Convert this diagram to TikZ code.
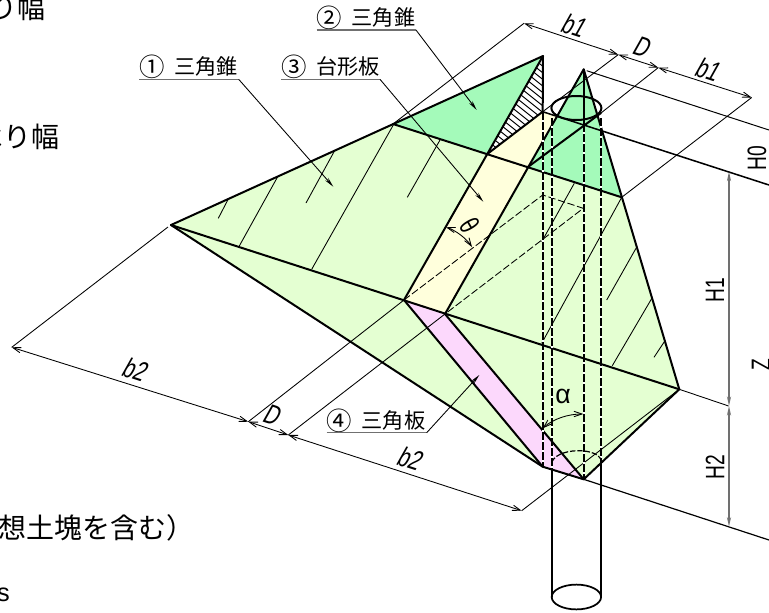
\documentclass[tikz,border=0pt]{standalone}
\usepackage{fontspec}
\usetikzlibrary{arrows.meta}
\newfontfamily\jpf{Noto Sans CJK JP}
\newfontfamily\dimf[FakeStretch=0.72]{Liberation Sans}
\newfontfamily\dimi[FakeStretch=0.72,FakeSlant=0.2]{Liberation Sans}
\newfontfamily\plainf{Liberation Sans}
\definecolor{lgreen}{HTML}{E4FFD2}
\definecolor{mgreen}{HTML}{A4FABA}
\definecolor{lyellow}{HTML}{FFFFDC}
\definecolor{lpink}{HTML}{FCD8FC}
\definecolor{dimgray}{HTML}{707070}
\newcommand{\lab}[2]{{\jpf\fontsize{15.9pt}{18pt}\selectfont\raisebox{-1.6pt}{\scalebox{1.2}{#1}}\hspace{7pt}#2}}
\tikzset{
  thickedge/.style={line width=1.5pt,line join=round,line cap=round,black},
  midedge/.style={line width=1pt,black},
  thinline/.style={line width=0.65pt,black},
  thindash/.style={line width=0.65pt,black,dash pattern=on 5.5pt off 2pt},
  pileunder/.style={line width=1.8pt,white},
  piledash/.style={line width=1.3pt,black,dash pattern=on 6pt off 1.5pt},
  dimarrow/.style={line width=0.65pt,black,{Straight Barb[length=6pt,width=4pt]}-{Straight Barb[length=6pt,width=4pt]}},
  leaderarrow/.style={line width=0.65pt,black,-{Stealth[length=7.5pt,width=3pt]}},
  underl/.style={line width=1.1pt,dimgray},
  vdim/.style={line width=1.2pt,dimgray,{Stealth[length=7pt,width=3pt]}-{Stealth[length=7pt,width=3pt]}},
  labnode/.style={anchor=base west,inner sep=0pt},
  dimlab/.style={inner sep=0pt,font=\dimi\fontsize{21pt}{22pt}\selectfont},
  hlab/.style={inner sep=0pt,rotate=90,font=\dimf\fontsize{20pt}{21pt}\selectfont},
  bigjp/.style={inner sep=0pt,font=\jpf\fontsize{21pt}{24pt}\selectfont},
}
\begin{document}
\begin{tikzpicture}[x=0.75pt,y=-0.75pt]
\useasboundingbox (0,0) rectangle (769,612);
% key points
\coordinate (A) at (171,225);
\coordinate (T) at (543,56);
\coordinate (R) at (583.7,69.3);
\coordinate (U) at (393,124);
\coordinate (V) at (621.7,197.3);
\coordinate (E) at (487.3,154);
\coordinate (F) at (528.3,166.7);
\coordinate (G) at (542.7,111.7);
\coordinate (K) at (556,116);
\coordinate (M) at (601,113);
\coordinate (L) at (404,300);
\coordinate (P) at (445,314);
\coordinate (B) at (542.7,466.7);
\coordinate (C) at (583.7,479.3);
\coordinate (W) at (679.3,389.3);
% fills
\fill[lgreen] (A) -- (U) -- (V) -- (W) -- (C) -- (B) -- cycle;
\fill[mgreen] (U) -- (T) -- (E) -- cycle;
\fill[mgreen] (F) -- (R) -- (V) -- cycle;
\fill[white] (T) -- (G) -- (E) -- cycle;
\fill[lyellow] (E) -- (G) -- (K) -- (P) -- (L) -- cycle;
\fill[lpink] (L) -- (P) -- (C) -- (B) -- cycle;
% hatching
\begin{scope}
\clip (T) -- (G) -- (E) -- cycle;
\foreach \k in {-14,...,14} {
  \draw[line width=0.75pt,black] (490,60+6.6*\k+30) -- ++(70,56);
}
\end{scope}
% thin slope lines
\coordinate (h1a) at (335,150); \coordinate (h1b) at (306,203);
\coordinate (h2a) at (277.7,176.7); \coordinate (h2b) at (239.3,246);
\coordinate (h3a) at (228.3,199); \coordinate (h3b) at (218.3,218.3);
\coordinate (h4a) at (393.3,125); \coordinate (h4b) at (311.7,269.3);
\coordinate (h5a) at (440,140); \coordinate (h5b) at (407.3,197.3);
\coordinate (h6a) at (574.3,183.3); \coordinate (h6b) at (541.7,241.7);
\coordinate (h7a) at (621.7,197.3); \coordinate (h7b) at (541.7,343.3);
\coordinate (h8a) at (636,248.3); \coordinate (h8b) at (606.7,300);
\coordinate (h9a) at (652,298); \coordinate (h9b) at (612.3,365.7);
\coordinate (h10a) at (665,340.7); \coordinate (h10b) at (654,357.3);
\foreach \i in {1,...,10} \draw[thinline] (h\i a) -- (h\i b);
% hidden dashed rhomb
\coordinate (Q1) at (542.7,195);
\coordinate (Q2) at (583.3,208.3);
\draw[thindash] (L) -- (Q1) -- (Q2) -- (P);
% extension lines
\coordinate (d1) at (524,23.3);
\coordinate (d2) at (618.3,54.6);
\coordinate (d3) at (658.3,67.6);
\coordinate (d4) at (751.7,97.5);
\coordinate (d5) at (11.7,347.3);
\coordinate (d6) at (248.3,421.7);
\coordinate (d7) at (288.3,435);
\coordinate (d8) at (521.7,510.7);
\coordinate (A0) at (168,227);
\draw[thinline] (U) -- (d1);
\draw[thinline] (G) -- (d2);
\draw[thinline] (M) -- (d3);
\draw[thinline] (V) -- (d4);
\draw[thinline] (A0) -- (d5);
\draw[thinline] (L) -- (d6);
\draw[thinline] (P) -- (d7);
\draw[thinline] (W) -- (d8);
% level lines
\coordinate (l1) at (769,185);
\coordinate (l2) at (769,130);
\coordinate (l3) at (769,540);
\coordinate (l4) at (728.6,406);
\coordinate (R0) at (586.7,70.7);
\draw[thinline,line width=0.75pt] (R0) -- (l2);
\draw[midedge,line width=1.15pt] (G) -- (l1);
\draw[midedge,line width=0.9pt] (C) -- (l3);
\draw[thinline] (W) -- (l4);
% dimension arrows
\draw[dimarrow] (d1) -- (d2);
\draw[dimarrow] (d2) -- (d3);
\draw[dimarrow] (d3) -- (d4);
\draw[dimarrow] (d5) -- (d6);
\draw[dimarrow] (d6) -- (d7);
\draw[dimarrow] (d7) -- (d8);
% vertical dimension
\coordinate (v1) at (729,171.7);
\coordinate (v3) at (729,526.7);
\coordinate (v2) at (729,406);
\draw[vdim] (v1) -- (v2);
\draw[vdim] (v2) -- (v3);
% pile solid
\draw[thickedge,line width=1.3pt] (551.7,474) -- (551.7,597);
\draw[thickedge,line width=1.3pt] (601,462) -- (601,597);
\draw[thickedge,line width=1.3pt] (576.4,597) ellipse [x radius=24.7,y radius=12.4];
% main thick edges
\draw[thickedge] (A) -- (T) -- (E);
\draw[thickedge] (T) -- (G) -- (E) -- (L);
\draw[thickedge] (U) -- (V);
\draw[thickedge] (A) -- (W);
\draw[thickedge] (R) -- (P);
\draw[thickedge] (F) -- (M);
\draw[thickedge] (R) -- (W) -- (C) -- (B) -- (A);
\draw[thickedge] (L) -- (B);
\draw[thickedge] (P) -- (C);
% vertical hidden lines
\foreach \xx/\ya/\yb in {542.7/112/466.7,551.7/118/474,583.7/124/479.3,601/118/462} {
  \draw[pileunder] (\xx,\ya) -- (\xx,\yb);
  \draw[piledash] (\xx,\ya) -- (\xx,\yb);
}
\draw[line width=1.3pt,black] (R) -- (583.7,124);
% hidden pile ellipse
\draw[line width=0.9pt,black,dash pattern=on 4pt off 1.5pt] (551.7,462) .. controls (556,453) and (570,450.5) .. (580,450.7) .. controls (590,451) and (598,454) .. (601,459);
% top ellipse
\draw[thickedge] (576.4,108) ellipse [x radius=25,y radius=12];
% angle arcs
\draw[dimarrow] (446,227.3) .. controls (455,230) and (466,238) .. (472,247);
\draw[dimarrow] (542.7,428.3) .. controls (553,419) and (568,414) .. (583.3,414);
% leaders and labels
\node[labnode] (lab1) at (139.3,74.5) {\lab{①}{三角錐}};
\node[labnode] (lab3) at (281,74.5) {\lab{③}{台形板}};
\node[labnode] (lab2) at (316.7,25.5) {\lab{②}{三角錐}};
\node[labnode] (lab4) at (326.7,428) {\lab{④}{三角板}};
\coordinate (u1a) at (139.3,79.3); \coordinate (u1b) at (238.7,79.3); \coordinate (t1) at (333.3,186.7);
\coordinate (u3a) at (281,79.3); \coordinate (u3b) at (380,79.3); \coordinate (t3) at (483.3,201.7);
\coordinate (u2a) at (316.7,30); \coordinate (u2b) at (416,30); \coordinate (t2) at (476.7,110);
\coordinate (u4a) at (326.7,432.7); \coordinate (u4b) at (426.7,432.7); \coordinate (t4) at (479.3,375);
\draw[underl] (u1a) -- (u1b); \draw[leaderarrow] (u1b) -- (t1);
\draw[underl] (u3a) -- (u3b); \draw[leaderarrow] (u3b) -- (t3);
\draw[underl] (u2a) -- (u2b); \draw[leaderarrow] (u2b) -- (t2);
\draw[underl] (u4a) -- (u4b); \draw[leaderarrow] (u4b) -- (t4);
% dimension text
\node[dimlab,rotate=-18] (tb1a) at (573,25) {b1};
\node[dimlab,rotate=-18] (tD1) at (640.7,47) {D};
\node[dimlab,rotate=-18] (tb1b) at (707,69) {b1};
\node[dimlab,rotate=-18] (tb2a) at (134,369) {b2};
\node[dimlab,rotate=-18] (tD2) at (271,414.5) {D};
\node[dimlab,rotate=-18] (tb2b) at (409,458) {b2};
\node[hlab] (tH0) at (757,158) {H0};
\node[hlab] (tH1) at (715,290) {H1};
\node[hlab] (tH2) at (715,467) {H2};
\node[hlab] (tZ) at (761,365) {Z};
\node[inner sep=0pt,font=\plainf\fontsize{20pt}{21pt}\selectfont] (talpha) at (563,396) {α};
\node[inner sep=0pt,rotate=-60,font=\dimf\fontsize{21pt}{22pt}\selectfont] (ttheta) at (469.5,225.7) {θ};
% page-edge texts
\node[bigjp,anchor=east] (c1) at (46,8) {り幅};
\node[bigjp,anchor=east] (c2) at (60,137) {べり幅};
\node[bigjp,anchor=west] (c3) at (-1.6,527.5) {想土塊を含む）};
\node[inner sep=0pt,anchor=base east,font=\plainf\fontsize{19pt}{20pt}\selectfont] (c4) at (10,601) {s};
\end{tikzpicture}
\end{document}
